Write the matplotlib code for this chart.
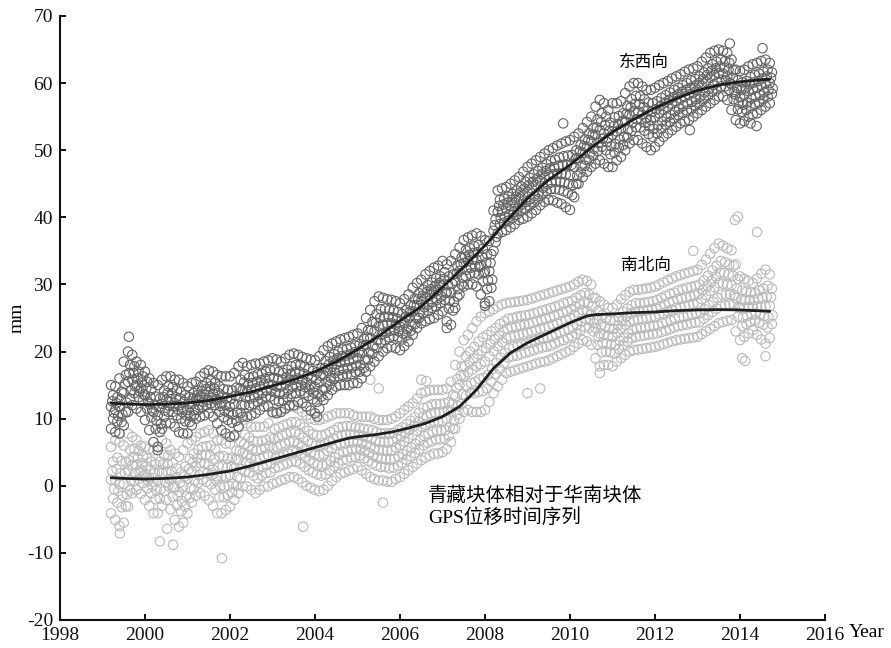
import numpy as np
import matplotlib
matplotlib.use("Agg")
import matplotlib.pyplot as plt

plt.rcParams['font.family'] = ['Liberation Serif', 'Noto Sans CJK SC']
plt.rcParams['axes.unicode_minus'] = False

# ---- sample epochs (every 0.1 yr, 1999.2 - 2014.7) ----
t = np.round(np.arange(1999.2, 2014.75, 0.1), 2)

# ---- East-West (东西向) point cloud: rows per epoch (top -> bottom) ----
ew_hi = [15.0,14.8,16.0,18.5,20.0,19.5,18.5,18.0,
 17.0,16.0,15.3,15.0,15.8,16.3,16.3,15.8,15.8,15.3,
 14.8,15.3,15.5,16.3,16.8,17.2,17.0,16.5,16.3,16.3,
 16.3,16.8,17.8,18.3,17.8,18.0,18.2,18.2,18.5,18.7,
 19.0,18.8,18.5,19.0,19.5,19.7,19.5,19.2,19.0,18.8,
 18.7,19.3,20.2,20.8,21.2,21.5,21.8,22.0,22.2,22.5,
 22.7,23.5,25.0,26.2,27.5,28.2,28.0,27.8,27.7,27.5,
 27.2,27.8,28.5,29.5,30.2,30.7,31.5,32.0,32.5,32.8,
 33.5,33.0,33.5,34.5,35.5,36.6,37.0,37.3,37.6,37.2,
 36.6,36.5,41.0,44.0,44.3,44.5,45.0,45.5,46.0,46.8,
 47.5,48.0,48.5,49.0,49.5,50.0,50.3,50.7,51.0,51.3,
 51.5,52.0,52.5,53.3,54.2,55.0,56.5,57.5,57.0,56.0,
 57.0,57.0,57.3,58.5,59.5,60.0,60.0,59.5,59.0,59.0,
 59.3,59.7,60.0,60.3,60.7,61.0,61.3,61.7,62.0,62.2,
 62.5,63.2,63.8,64.5,64.8,65.0,64.8,64.5,63.5,62.0,
 61.8,62.0,62.5,62.8,63.0,63.3,63.5,63.0]
ew_a = [13.5,13.2,14.0,16.5,18.0,17.8,17.0,16.3,
 15.5,14.3,13.3,13.0,14.2,14.8,14.7,14.2,14.0,13.5,
 13.2,13.8,14.2,14.9,15.3,15.7,15.4,14.8,14.4,14.3,
 14.2,14.6,15.8,16.5,16.1,16.3,16.6,16.7,17.0,17.2,
 17.3,17.0,16.8,17.3,17.8,18.0,18.0,17.7,17.4,17.1,
 16.9,17.5,18.6,19.2,19.6,20.0,20.3,20.4,20.6,20.9,
 21.1,21.9,23.2,24.4,25.6,26.3,26.4,26.2,26.1,25.9,
 25.6,26.2,26.9,27.9,28.7,29.2,29.9,30.3,30.9,31.2,
 31.8,31.2,31.5,32.8,34.0,35.1,35.4,35.7,35.9,35.3,
 34.5,34.5,39.7,42.6,42.8,43.1,43.5,44.0,44.6,45.3,
 45.9,46.4,46.9,47.4,47.9,48.4,48.6,48.9,49.1,49.2,
 49.3,50.0,50.8,51.6,52.5,53.3,54.6,55.5,55.0,54.1,
 54.9,55.1,55.5,56.6,57.6,58.1,58.1,57.6,57.1,57.0,
 57.3,57.8,58.2,58.6,59.0,59.3,59.7,60.0,60.4,60.6,
 61.0,61.6,62.2,62.8,63.2,63.5,63.3,63.0,61.9,60.4,
 60.1,60.3,60.9,61.2,61.4,61.7,62.0,61.6]
ew_am = [12.6,12.3,12.9,15.2,16.8,16.8,16.0,15.4,
 14.5,13.2,12.1,11.7,13.2,13.8,13.8,13.2,13.0,12.5,
 12.2,13.0,13.5,14.1,14.4,14.8,14.5,13.8,13.3,13.1,
 13.0,13.4,14.5,15.4,15.0,15.3,15.5,15.7,16.0,16.2,
 16.1,15.9,15.8,16.2,16.7,16.9,17.0,16.7,16.4,16.0,
 15.8,16.4,17.5,18.1,18.6,19.0,19.3,19.4,19.6,19.9,
 20.0,20.8,22.1,23.2,24.3,25.0,25.2,25.2,25.1,24.9,
 24.6,25.2,25.9,26.9,27.8,28.3,28.9,29.3,29.8,30.2,
 30.8,30.0,30.1,31.6,33.0,34.1,34.4,34.7,34.8,34.1,
 33.2,33.2,38.8,41.7,41.9,42.2,42.6,43.1,43.7,44.3,
 44.8,45.3,45.8,46.4,46.9,47.3,47.5,47.7,47.8,47.8,
 47.8,48.7,49.8,50.6,51.5,52.3,53.4,54.2,53.7,52.9,
 53.6,53.9,54.3,55.4,56.4,56.9,56.9,56.4,55.9,55.7,
 56.1,56.6,57.1,57.5,57.9,58.3,58.7,59.0,59.3,59.6,
 60.0,60.6,61.2,61.8,62.2,62.5,62.3,62.0,60.8,59.3,
 59.0,59.2,59.8,60.1,60.3,60.7,61.0,60.8]
ew_m = [11.8,11.3,11.8,13.8,15.5,15.8,15.0,14.5,
 13.5,12.2,11.0,10.5,12.2,12.8,12.9,12.3,12.0,11.5,
 11.3,12.2,12.8,13.3,13.6,14.0,13.7,12.9,12.3,12.0,
 11.8,12.2,13.3,14.3,14.0,14.3,14.5,14.8,15.1,15.2,
 15.0,14.8,14.8,15.2,15.7,15.8,16.0,15.7,15.4,15.0,
 14.7,15.4,16.5,17.1,17.7,18.1,18.4,18.5,18.6,18.9,
 19.0,19.8,21.0,22.0,23.0,23.8,24.0,24.2,24.2,24.0,
 23.7,24.3,25.0,26.0,26.9,27.5,28.0,28.4,28.8,29.2,
 29.8,28.8,28.8,30.5,32.0,33.2,33.5,33.7,33.7,32.9,
 31.9,32.0,38.0,40.8,41.0,41.3,41.7,42.2,42.8,43.3,
 43.8,44.3,44.8,45.4,45.9,46.3,46.4,46.5,46.5,46.4,
 46.3,47.5,48.8,49.6,50.5,51.3,52.3,53.0,52.5,51.8,
 52.3,52.8,53.2,54.3,55.3,55.8,55.8,55.3,54.8,54.5,
 54.9,55.5,56.0,56.4,56.9,57.3,57.7,58.0,58.3,58.6,
 59.0,59.6,60.2,60.8,61.2,61.5,61.4,61.0,59.8,58.3,
 57.9,58.2,58.8,59.1,59.3,59.7,60.0,60.0]
ew_mb = [10.9,10.4,10.6,12.4,14.2,14.8,14.1,13.6,
 12.5,11.2,9.7,9.2,11.2,11.9,11.9,11.4,11.0,10.5,
 10.4,11.3,12.0,12.5,12.8,13.1,12.8,11.9,11.2,10.9,
 10.6,10.9,12.0,13.2,13.0,13.2,13.5,13.8,14.2,14.2,
 13.9,13.7,13.7,14.2,14.7,14.8,15.0,14.7,14.4,13.9,
 13.6,14.3,15.5,16.1,16.8,17.2,17.4,17.5,17.6,17.9,
 18.0,18.7,19.9,20.8,21.7,22.5,22.8,23.1,23.2,23.0,
 22.7,23.3,24.0,25.0,25.9,26.6,27.0,27.4,27.7,28.2,
 28.7,27.6,27.4,29.3,31.0,32.2,32.5,32.7,32.6,31.7,
 30.6,30.7,37.1,39.9,40.1,40.4,40.8,41.3,41.9,42.3,
 42.7,43.2,43.7,44.4,44.9,45.2,45.3,45.3,45.2,45.0,
 44.8,46.2,47.7,48.6,49.5,50.2,51.1,51.7,51.2,50.6,
 50.9,51.6,52.0,53.1,54.1,54.6,54.6,54.1,53.6,53.2,
 53.7,54.3,54.9,55.3,55.8,56.2,56.6,56.9,57.2,57.6,
 58.0,58.6,59.1,59.7,60.1,60.5,60.4,60.0,58.7,57.2,
 56.8,57.1,57.7,58.0,58.2,58.6,59.0,59.2]
ew_b = [10.0,9.6,9.5,11.0,13.0,13.8,13.2,12.7,
 11.5,10.2,8.5,8.0,10.3,11.0,11.0,10.5,10.0,9.6,
 9.5,10.5,11.3,11.7,12.0,12.3,12.0,11.0,10.2,9.8,
 9.4,9.7,10.8,12.1,12.0,12.2,12.5,12.9,13.3,13.3,
 12.8,12.6,12.7,13.2,13.7,13.8,14.1,13.8,13.4,12.9,
 12.5,13.3,14.5,15.1,15.9,16.3,16.5,16.6,16.6,16.9,
 17.0,17.6,18.8,19.7,20.5,21.3,21.7,22.1,22.3,22.1,
 21.8,22.4,23.1,24.1,25.0,25.7,26.1,26.5,26.7,27.2,
 27.7,26.4,26.1,28.2,30.0,31.2,31.6,31.7,31.5,30.5,
 29.3,29.5,36.3,39.0,39.2,39.5,39.9,40.4,41.0,41.3,
 41.7,42.2,42.7,43.4,43.9,44.2,44.2,44.1,43.9,43.6,
 43.3,45.0,46.7,47.7,48.5,49.2,49.9,50.5,50.0,49.4,
 49.6,50.4,50.8,51.9,52.9,53.4,53.4,52.9,52.4,52.0,
 52.5,53.2,53.8,54.2,54.7,55.2,55.6,55.9,56.1,56.6,
 57.0,57.6,58.1,58.7,59.1,59.5,59.5,59.0,57.6,56.1,
 55.7,56.0,56.6,56.9,57.1,57.6,58.0,58.4]
ew_lo = [8.5,8.0,7.8,9.0,11.0,12.0,11.5,11.0,
 9.8,8.3,6.5,5.8,8.5,9.3,9.3,8.8,8.0,7.8,
 7.8,9.0,10.0,10.3,10.5,10.8,10.3,9.3,8.3,7.8,
 7.3,7.5,8.8,10.3,10.3,10.5,10.8,11.3,11.8,11.8,
 11.0,10.8,11.0,11.5,12.0,12.0,12.5,12.3,11.8,11.2,
 10.8,11.5,12.8,13.5,14.3,14.8,15.0,15.0,15.0,15.3,
 15.3,16.0,17.0,17.8,18.5,19.3,20.0,20.5,20.7,20.5,
 20.2,20.8,21.5,22.5,23.5,24.2,24.5,24.8,25.0,25.5,
 26.0,24.5,24.0,26.5,28.5,29.7,30.0,30.0,29.7,28.5,
 27.2,27.5,35.0,37.6,37.8,38.1,38.5,39.0,39.6,39.8,
 40.1,40.6,41.1,41.8,42.3,42.6,42.5,42.2,42.0,41.5,
 41.1,43.0,45.0,46.0,46.8,47.5,48.0,48.5,48.0,47.5,
 47.5,48.5,49.0,50.0,51.0,51.5,51.5,51.0,50.5,50.0,
 50.5,51.3,52.0,52.5,53.0,53.5,54.0,54.3,54.5,55.0,
 55.5,56.0,56.5,57.0,57.5,58.0,58.0,57.5,56.0,54.5,
 54.0,54.3,55.0,55.3,55.5,56.0,56.5,57.0]

# ---- North-South (南北向) point cloud ----
ns_hi = [5.8,6.8,6.5,6.0,7.8,7.3,6.8,6.0,
 5.8,5.5,5.3,5.8,6.8,6.3,5.3,4.8,4.3,5.3,
 6.3,6.8,7.3,7.8,8.0,8.3,7.8,6.8,6.8,6.3,
 6.3,7.3,8.8,9.8,9.3,8.8,8.8,8.8,8.8,9.3,
 10.8,11.0,11.3,11.5,11.8,11.8,11.5,11.0,10.5,10.0,
 9.8,9.8,10.0,10.3,10.5,10.8,10.8,10.8,10.8,10.5,
 10.3,10.3,10.3,10.3,10.0,9.8,9.8,9.8,10.0,10.3,
 10.8,11.3,11.8,12.3,13.0,13.8,14.0,14.2,14.3,14.3,
 14.3,14.5,15.5,18.0,20.0,21.7,22.5,23.5,24.5,25.2,
 25.7,26.0,26.3,26.7,27.0,27.2,27.3,27.4,27.5,27.6,
 27.7,27.9,28.1,28.3,28.5,28.7,28.9,29.1,29.3,29.5,
 29.7,30.0,30.4,30.7,30.5,30.0,28.0,27.5,27.0,26.5,
 26.5,27.0,27.8,28.4,28.9,29.2,29.2,29.3,29.4,29.5,
 29.7,30.0,30.3,30.6,30.9,31.2,31.4,31.6,31.8,32.0,
 32.2,32.9,33.7,34.6,35.4,36.1,35.8,35.4,35.1,33.0,
 31.2,30.8,30.5,30.2,30.9,31.6,32.2,31.5]
ns_a = [3.6,4.2,3.7,3.5,5.4,5.5,5.2,4.4,
 4.1,3.6,3.2,3.6,4.6,4.5,3.4,2.6,2.0,2.9,
 4.0,4.8,5.4,5.8,5.9,6.0,5.4,4.4,4.4,4.1,
 4.2,5.2,6.6,7.6,7.2,6.7,6.6,6.7,6.8,7.2,
 8.5,8.7,9.0,9.2,9.5,9.5,9.2,8.7,8.2,7.7,
 7.5,7.5,7.7,8.0,8.3,8.7,8.8,8.9,8.9,8.7,
 8.6,8.5,8.4,8.3,8.0,7.8,7.8,7.8,7.9,8.3,
 8.7,9.2,9.7,10.2,10.9,11.6,11.8,12.1,12.2,12.2,
 12.3,12.5,13.5,15.9,17.8,19.3,20.0,20.7,21.5,22.1,
 22.5,23.0,23.5,24.1,24.5,24.9,25.0,25.2,25.3,25.4,
 25.5,25.7,25.9,26.1,26.3,26.5,26.7,26.9,27.2,27.4,
 27.6,28.0,28.4,28.7,28.5,28.0,26.0,25.4,25.0,24.6,
 24.6,25.1,25.9,26.4,26.9,27.2,27.2,27.3,27.4,27.5,
 27.7,28.0,28.3,28.6,28.8,29.1,29.3,29.5,29.6,29.8,
 30.0,30.6,31.3,32.1,32.8,33.5,33.3,33.0,32.8,30.8,
 29.1,28.9,28.8,28.7,29.1,29.4,29.8,29.4]
ns_am = [2.2,2.5,1.9,1.9,3.8,4.3,4.1,3.4,
 2.9,2.4,1.9,2.2,3.2,3.3,2.1,1.2,0.5,1.4,
 2.5,3.5,4.1,4.6,4.6,4.5,3.9,2.9,2.9,2.7,
 2.9,3.9,5.2,6.2,5.9,5.4,5.2,5.4,5.6,5.9,
 7.0,7.2,7.5,7.7,8.0,8.0,7.7,7.2,6.7,6.3,
 6.0,6.0,6.2,6.6,7.0,7.4,7.5,7.6,7.7,7.6,
 7.6,7.4,7.2,7.0,6.7,6.5,6.5,6.5,6.6,7.0,
 7.4,7.9,8.4,8.9,9.5,10.2,10.4,10.7,10.9,10.9,
 11.0,11.2,12.2,14.6,16.4,17.8,18.4,19.0,19.6,20.1,
 20.5,21.1,21.8,22.4,23.0,23.4,23.6,23.7,23.9,24.0,
 24.1,24.3,24.5,24.7,24.9,25.1,25.3,25.5,25.8,26.0,
 26.3,26.7,27.1,27.4,27.2,26.7,24.7,24.0,23.7,23.4,
 23.4,23.9,24.6,25.2,25.7,25.9,26.0,26.1,26.2,26.3,
 26.4,26.7,27.0,27.3,27.5,27.8,27.9,28.1,28.2,28.4,
 28.6,29.2,29.8,30.5,31.2,31.8,31.7,31.5,31.3,29.4,
 27.8,27.7,27.7,27.7,27.9,28.0,28.2,28.1]
ns_m = [0.9,0.8,0.2,0.3,2.3,3.1,3.1,2.4,
 1.8,1.2,0.6,0.8,1.9,2.1,0.9,-0.2,-0.9,-0.1,
 1.1,2.2,2.9,3.4,3.3,3.1,2.4,1.4,1.4,1.4,
 1.6,2.6,3.9,4.9,4.6,4.1,3.9,4.1,4.4,4.6,
 5.6,5.8,6.1,6.3,6.6,6.6,6.3,5.8,5.3,4.9,
 4.6,4.5,4.7,5.2,5.6,6.1,6.3,6.4,6.6,6.5,
 6.6,6.3,6.1,5.8,5.5,5.3,5.3,5.2,5.3,5.7,
 6.1,6.6,7.1,7.6,8.2,8.8,9.1,9.4,9.6,9.6,
 9.7,10.0,11.0,13.3,15.0,16.4,16.9,17.3,17.8,18.1,
 18.5,19.3,20.1,20.8,21.4,22.0,22.2,22.3,22.5,22.6,
 22.8,23.0,23.2,23.4,23.5,23.7,24.0,24.2,24.5,24.7,
 25.0,25.4,25.8,26.2,26.0,25.5,23.5,22.7,22.5,22.3,
 22.2,22.8,23.4,24.0,24.5,24.7,24.8,24.9,25.0,25.1,
 25.2,25.5,25.7,26.0,26.2,26.5,26.6,26.8,26.9,27.1,
 27.2,27.8,28.4,29.0,29.6,30.2,30.1,30.0,29.9,28.0,
 26.5,26.5,26.6,26.7,26.7,26.7,26.7,26.8]
ns_mb = [-0.5,-0.8,-1.5,-1.3,0.8,1.9,2.0,1.4,
 0.7,0.0,-0.7,-0.5,0.5,1.0,-0.3,-1.5,-2.3,-1.6,
 -0.3,0.8,1.6,2.1,1.9,1.6,0.9,-0.1,-0.1,0.0,
 0.3,1.3,2.5,3.5,3.3,2.8,2.5,2.8,3.1,3.3,
 4.1,4.3,4.6,4.8,5.1,5.1,4.8,4.3,3.8,3.4,
 3.1,3.0,3.2,3.7,4.2,4.7,5.0,5.1,5.4,5.4,
 5.5,5.2,4.9,4.5,4.2,4.0,4.0,3.9,4.0,4.3,
 4.7,5.2,5.7,6.2,6.8,7.4,7.7,8.0,8.2,8.2,
 8.3,8.7,9.7,11.9,13.6,14.9,15.3,15.5,15.9,16.1,
 16.5,17.4,18.3,19.1,19.8,20.5,20.7,20.8,21.0,21.2,
 21.4,21.6,21.8,22.0,22.1,22.3,22.6,22.8,23.1,23.3,
 23.6,24.0,24.5,24.9,24.7,24.2,22.2,21.3,21.2,21.1,
 21.0,21.6,22.1,22.7,23.2,23.4,23.5,23.6,23.7,23.8,
 23.9,24.2,24.4,24.6,24.9,25.1,25.2,25.4,25.5,25.7,
 25.8,26.3,26.9,27.4,28.0,28.5,28.5,28.5,28.4,26.6,
 25.1,25.3,25.5,25.7,25.5,25.3,25.1,25.4]
ns_b = [-1.9,-2.5,-3.2,-3.0,-0.7,0.7,1.0,0.4,
 -0.4,-1.1,-2.0,-1.9,-0.8,0.0,-1.6,-2.9,-3.8,-3.1,
 -1.8,-0.5,0.4,0.9,0.6,0.2,-0.6,-1.7,-1.7,-1.4,
 -1.0,0.0,1.1,2.1,2.0,1.5,1.1,1.5,1.9,2.0,
 2.6,2.8,3.1,3.3,3.6,3.6,3.3,2.8,2.3,2.0,
 1.7,1.5,1.7,2.3,2.9,3.4,3.8,3.9,4.2,4.3,
 4.5,4.1,3.7,3.3,3.0,2.8,2.8,2.6,2.7,3.0,
 3.4,3.9,4.4,4.9,5.4,6.0,6.4,6.6,6.9,6.9,
 7.0,7.5,8.5,10.6,12.2,13.4,13.8,13.8,14.0,14.1,
 14.5,15.5,16.6,17.4,18.3,19.1,19.3,19.4,19.6,19.8,
 20.0,20.2,20.4,20.6,20.7,20.9,21.2,21.5,21.7,22.0,
 22.3,22.7,23.2,23.7,23.5,23.0,21.0,19.9,20.0,19.9,
 19.7,20.4,20.9,21.5,22.0,22.2,22.3,22.4,22.5,22.6,
 22.7,22.9,23.1,23.3,23.6,23.8,23.9,24.0,24.2,24.3,
 24.4,24.9,25.4,25.9,26.4,26.8,26.9,27.0,27.0,25.2,
 23.8,24.1,24.4,24.7,24.3,24.0,23.6,24.1]
ns_lo = [-4.1,-5.1,-6.0,-5.5,-3.1,-1.1,-0.6,-1.2,
 -2.1,-3.0,-4.1,-4.1,-3.0,-2.1,-3.5,-5.1,-6.1,-5.5,
 -4.1,-2.5,-1.5,-1.1,-1.5,-2.1,-3.0,-4.1,-4.1,-3.6,
 -3.1,-2.1,-1.1,-0.1,-0.1,-0.6,-1.1,-0.6,-0.1,-0.1,
 0.3,0.5,0.8,1.0,1.3,1.3,1.0,0.5,0.0,-0.3,
 -0.6,-0.8,-0.6,0.0,0.7,1.3,1.8,2.0,2.3,2.5,
 2.8,2.3,1.8,1.3,1.0,0.8,0.8,0.6,0.6,1.0,
 1.3,1.8,2.3,2.8,3.3,3.8,4.2,4.5,4.8,4.8,
 5.0,5.5,6.5,8.5,10.0,11.0,11.3,11.0,11.0,11.0,
 11.3,12.5,13.8,14.8,15.8,16.8,17.0,17.2,17.4,17.6,
 17.8,18.0,18.2,18.4,18.5,18.7,19.0,19.3,19.6,19.9,
 20.2,20.7,21.2,21.7,21.5,21.0,19.0,17.8,18.0,18.0,
 17.8,18.5,19.0,19.5,20.0,20.2,20.3,20.4,20.5,20.6,
 20.7,20.9,21.1,21.3,21.5,21.7,21.8,21.9,22.0,22.1,
 22.2,22.6,23.0,23.4,23.8,24.2,24.4,24.6,24.7,23.0,
 21.7,22.2,22.7,23.2,22.5,21.8,21.2,22.0]

# ---- isolated circles ----
ew_out_t = [1999.62, 2000.30, 2007.10, 2008.00, 2009.84, 2012.82, 2013.76, 2014.53, 2014.39, 2014.25, 2004.05]
ew_out_v = [22.2, 5.3, 23.5, 26.8, 54.0, 53.0, 65.9, 65.2, 53.6, 54.0, 10.3]
ns_out_t = [1999.41, 2000.35, 2000.52, 2000.66, 2001.81, 2003.72, 2005.60, 2005.30, 2005.50,
            2006.50, 2006.62, 2009.00, 2009.30, 2010.70, 2013.88, 2013.95, 2014.40, 2014.05, 2014.12, 2014.60, 2012.90]
ns_out_v = [-7.1, -8.3, -6.4, -8.8, -10.8, -6.1, -2.5, 15.8, 14.5,
            15.8, 15.6, 13.8, 14.5, 16.8, 39.6, 40.1, 37.8, 19.0, 18.6, 19.3, 35.0]

# ---- fitted trend curves ----
ew_fit_t = [1999.2,1999.5,2000.0,2000.5,2001.0,2001.5,2002.0,2002.5,2003.0,2003.5,2004.0,2004.5,
            2005.0,2005.5,2006.0,2006.5,2007.0,2007.5,2008.0,2008.5,2009.0,2009.5,2010.0,2010.5,
            2011.0,2011.5,2012.0,2012.5,2013.0,2013.5,2014.0,2014.7]
ew_fit_v = [12.3,12.2,12.1,12.15,12.35,12.7,13.3,14.0,14.9,15.8,17.0,18.5,
            20.3,22.3,24.6,26.7,29.6,32.6,35.8,39.4,42.8,45.6,47.8,50.4,
            52.7,54.6,56.3,57.7,58.9,59.7,60.2,60.6]
ns_fit_t = [1999.2,1999.5,2000.0,2000.5,2001.0,2001.5,2002.0,2002.5,2003.0,2003.5,2004.0,2004.5,
            2004.8,2005.0,2005.4,2005.8,2006.2,2006.6,2007.0,2007.4,2007.8,2008.2,2008.6,2009.0,
            2009.5,2010.0,2010.4,2010.6,2011.0,2011.5,2012.0,2012.5,2013.0,2013.5,2014.0,2014.7]
ns_fit_v = [1.2,1.1,1.0,1.1,1.3,1.7,2.2,3.0,3.9,4.8,5.7,6.6,
            7.1,7.3,7.6,8.0,8.6,9.3,10.3,11.8,14.3,17.5,19.8,21.3,
            22.8,24.3,25.3,25.5,25.6,25.8,25.9,26.1,26.2,26.25,26.2,26.0]

x_ticks = list(range(1998, 2017, 2))
y_ticks = list(range(-20, 71, 10))

# ---------------------------------------------------------------
fig = plt.figure(figsize=(8.91, 6.48), dpi=100)
fig.patch.set_facecolor('white')
ax = fig.add_axes([60/891, 28/648, 765/891, 604/648])

ms = 46
lw_m = 0.8
ns_col = '#bababa'
ew_col = '#646464'

ns_rows = [(t, ns_hi), (t + 0.05, ns_a), (t + 0.03, ns_am), (t, ns_m),
           (t + 0.07, ns_mb), (t + 0.05, ns_b), (t, ns_lo), (ns_out_t, ns_out_v)]
ew_rows = [(t, ew_hi), (t + 0.05, ew_a), (t + 0.03, ew_am), (t, ew_m),
           (t + 0.07, ew_mb), (t + 0.05, ew_b), (t, ew_lo), (ew_out_t, ew_out_v)]
for xs, ys in ns_rows:
    ax.scatter(xs, ys, s=ms, facecolors='none', edgecolors=ns_col, linewidths=lw_m, zorder=2)
for xs, ys in ew_rows:
    ax.scatter(xs, ys, s=ms, facecolors='none', edgecolors=ew_col, linewidths=lw_m, zorder=3)

ax.plot(ew_fit_t, ew_fit_v, color='#1e1e1e', lw=2.0, zorder=5, solid_capstyle='round')
ax.plot(ns_fit_t, ns_fit_v, color='#1e1e1e', lw=2.0, zorder=5, solid_capstyle='round')

ax.set_xlim(1998, 2016)
ax.set_ylim(-20, 70)
ax.set_xticks(x_ticks)
ax.set_xticklabels([str(v) for v in x_ticks])
ax.set_yticks(y_ticks)
ax.set_yticklabels([str(v) for v in y_ticks])
for s in ['top', 'right']:
    ax.spines[s].set_visible(False)
for s in ['left', 'bottom']:
    ax.spines[s].set_linewidth(1.5)
    ax.spines[s].set_color('#111111')
ax.tick_params(direction='in', length=4.5, width=1.4, labelsize=14, pad=5, colors='#111111')
ax.set_facecolor('none')

ax.set_ylabel('mm', fontsize=14, labelpad=1)
ax.text(2016.55, -21.9, 'Year', fontsize=14, ha='left', va='center', clip_on=False)

cjk = ['Noto Sans CJK SC', 'Liberation Serif']
ax.text(2011.15, 63.0, '东西向', fontsize=12, ha='left', va='center', family=cjk)
ax.text(2011.2, 32.8, '南北向', fontsize=12, ha='left', va='center', family=cjk)
ax.text(2006.66, -1.4, '青藏块体相对于华南块体', fontsize=14, ha='left', va='center', family=cjk)
ax.text(2006.66, -4.8, 'GPS位移时间序列', fontsize=14, ha='left', va='center', family=['Liberation Serif', 'Noto Sans CJK SC'])

fig.savefig('out.png', dpi=100, facecolor='white')
